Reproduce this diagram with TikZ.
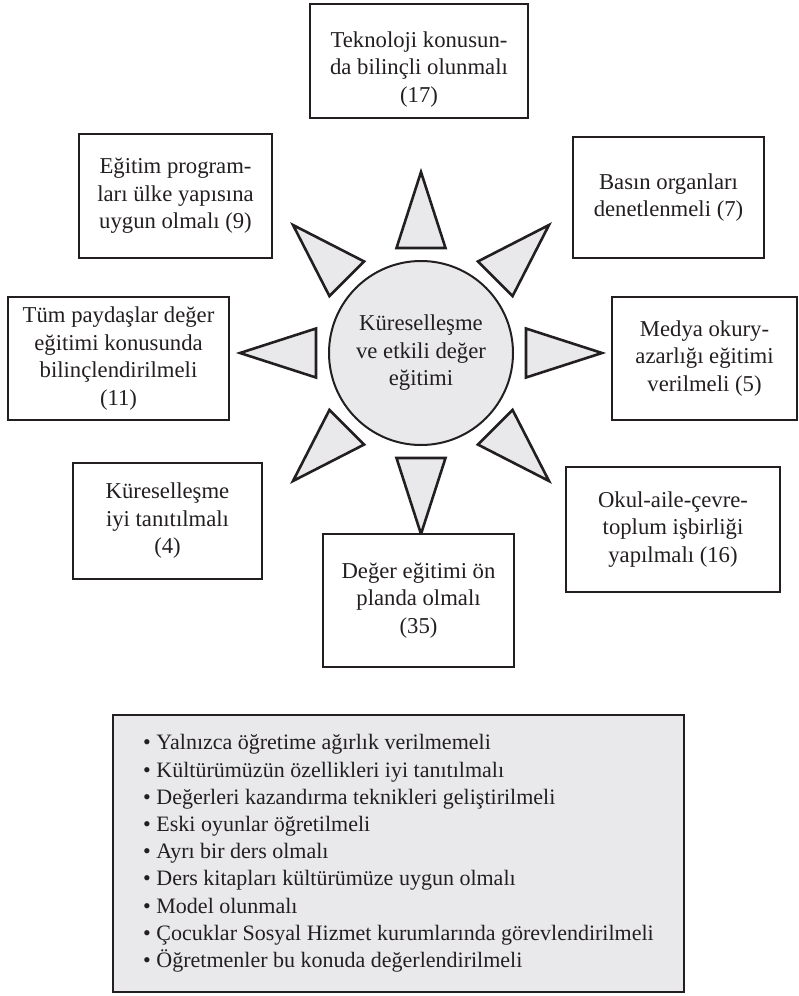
\documentclass[tikz,border=0pt]{standalone}
\usepackage{fontspec}
\setmainfont{Liberation Serif}
\usetikzlibrary{calc}
\definecolor{ink}{RGB}{35,31,32}
\definecolor{pale}{RGB}{233,233,235}
\tikzset{idea/.style={rectangle,draw=ink,line width=2.6pt,fill=white,align=center,text=ink,inner sep=0pt,
                      font=\fontsize{22.7}{27.5}\selectfont},
         hub/.style={circle,draw=ink,line width=2pt,fill=pale,align=center,text=ink,minimum size=184pt,inner sep=0pt,
                     font=\fontsize{22.7}{27.5}\selectfont},
         ray/.style={draw=ink,line width=2.6pt,fill=pale,line join=miter},
         listbox/.style={rectangle,draw=ink,line width=2.6pt,fill=pale,align=left,text=ink,inner sep=0pt,
                         font=\fontsize{22}{27.2}\selectfont}}

\begin{document}
\begin{tikzpicture}[x=1pt,y=-1pt]
    \useasboundingbox (0,0) rectangle (799,996);
    % Centre
    \node[hub] (hub) at (421,353) {Küreselleşme\\ve etkili değer\\eğitimi};
    % Rays round the centre
    \foreach \a in {0,45,...,315}
      \draw[ray] ($(hub.center)+(\a:105)+(\a+90:24.5)$) -- ($(hub.center)+(\a:181)$)
                 -- ($(hub.center)+(\a:105)+(\a-90:24.5)$) -- cycle;
    % Suggestions
    \node[idea, minimum width=218pt, minimum height=114pt] (tech) at (419,61) {\rule{0pt}{32pt}Teknoloji konusun-\\da bilinçli olunmalı\\(17)};
    \node[idea, minimum width=193pt, minimum height=124pt] (prog) at (175.5,196) {Eğitim program-\\ları ülke yapısına\\uygun olmalı (9)};
    \node[idea, minimum width=191pt, minimum height=121pt] (press) at (668.5,197.5) {Basın organları\\denetlenmeli (7)};
    \node[idea, minimum width=221pt, minimum height=123pt] (stake) at (118.5,358.5) {Tüm paydaşlar değer\\eğitimi konusunda\\bilinçlendirilmeli\\(11)};
    \node[idea, minimum width=185pt, minimum height=123pt] (media) at (704.5,358.5) {Medya okury-\\azarlığı eğitimi\\verilmeli (5)};
    \node[idea, minimum width=189pt, minimum height=116pt] (glob) at (167.5,521) {Küreselleşme\\iyi tanıtılmalı\\(4)};
    \node[idea, minimum width=214pt, minimum height=125pt] (coop) at (673,529.5) {Okul-aile-çevre-\\toplum işbirliği\\yapılmalı (16)};
    \node[idea, minimum width=191pt, minimum height=133pt] (values) at (418.5,600.5) {Değer eğitimi ön\\planda olmalı\\(35)};
    % Other suggestions
    \node[listbox, minimum width=571pt, minimum height=277pt] (extras) at (398.5,853.5)
      {\textbullet\ Yalnızca öğretime ağırlık verilmemeli\\
       \textbullet\ Kültürümüzün özellikleri iyi tanıtılmalı\\
       \textbullet\ Değerleri kazandırma teknikleri geliştirilmeli\\
       \textbullet\ Eski oyunlar öğretilmeli\\
       \textbullet\ Ayrı bir ders olmalı\\
       \textbullet\ Ders kitapları kültürümüze uygun olmalı\\
       \textbullet\ Model olunmalı\\
       \textbullet\ Çocuklar Sosyal Hizmet kurumlarında görevlendirilmeli\\
       \textbullet\ Öğretmenler bu konuda değerlendirilmeli};
\end{tikzpicture}
\end{document}
